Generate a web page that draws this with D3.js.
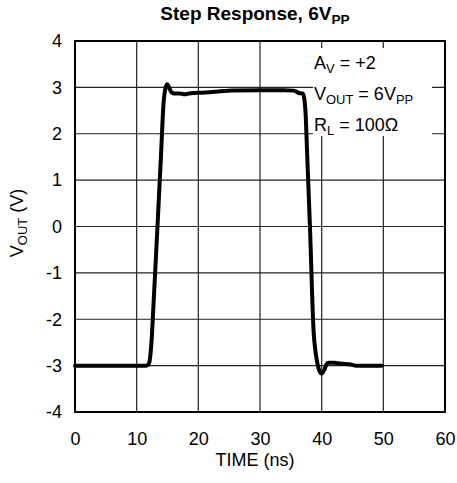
<!DOCTYPE html>
<html><head><meta charset="utf-8">
<script src="https://cdn.jsdelivr.net/npm/d3@7"></script>
<style>html,body{margin:0;padding:0;background:#fff;}svg{display:block;font-family:"Liberation Sans",Arial,sans-serif;}</style>
</head><body><svg id="c" width="457" height="483"></svg>
<script>
const timeNs = [0, 6, 11.5, 11.9, 12.1, 12.4, 12.8, 13.3, 13.95, 14.35, 14.7, 14.95, 15.25, 15.6, 16.05, 17.0, 17.8, 18.5, 21.1, 25.4, 30, 33.9, 35.5, 36.3, 36.9, 37.15, 37.4, 37.65, 38.1, 38.7, 39.0, 39.2, 39.6, 40.0, 40.4, 40.8, 41.1, 42, 43.5, 44.5, 45.5, 47, 49.7];
const voutV  = [-3.0, -3.0, -3.0, -2.98, -2.9, -2.5, -1.5, -0.2, 1.55, 2.64, 3.0, 3.07, 3.0, 2.9, 2.87, 2.87, 2.85, 2.87, 2.89, 2.93, 2.94, 2.94, 2.93, 2.88, 2.87, 2.78, 2.42, 1.55, 0, -2.28, -2.7, -2.87, -3.1, -3.17, -3.1, -2.97, -2.94, -2.94, -2.96, -2.97, -3.0, -3.0, -3.0];
const xTicks = [0, 10, 20, 30, 40, 50, 60];
const yTicks = [4, 3, 2, 1, 0, -1, -2, -3, -4];
const legendLines = [
  [["A",""],["V","sub"],[" = +2",""]],
  [["V",""],["OUT","sub"],[" = 6V",""],["PP","sub"]],
  [["R",""],["L","sub"],[" = 100Ω",""]]
];

const svg = d3.select("#c");
const L = 75, R = 445, T = 41, B = 412;
const x = d3.scaleLinear().domain([0, 60]).range([L, R]);
const y = d3.scaleLinear().domain([-4, 4]).range([B, T]);

// grid
const g = svg.append("g");
g.selectAll(".vg").data(xTicks.slice(1, -1)).join("line")
  .attr("x1", d => x(d)).attr("x2", d => x(d)).attr("y1", T).attr("y2", B)
  .attr("stroke", "#222").attr("stroke-width", 1.2);
g.selectAll(".hg").data(yTicks.slice(1, -1)).join("line")
  .attr("y1", d => y(d)).attr("y2", d => y(d)).attr("x1", L).attr("x2", R)
  .attr("stroke", "#222").attr("stroke-width", 1.2);

// legend background
svg.append("rect").attr("x", 313).attr("y", 48).attr("width", 119).attr("height", 88).attr("fill", "#fff");

// frame
svg.append("rect").attr("x", L).attr("y", T).attr("width", R - L).attr("height", B - T)
  .attr("fill", "none").attr("stroke", "#000").attr("stroke-width", 2);

// axes labels
const fs = 18;
const xa = svg.append("g").attr("transform", `translate(0,${B})`)
  .call(d3.axisBottom(x).tickValues(xTicks).tickSize(0).tickPadding(20).tickFormat(d3.format("d")));
xa.select(".domain").remove();
xa.selectAll("text").attr("font-size", fs).attr("font-family", "Liberation Sans, Arial, sans-serif").attr("fill", "#000");
const ya = svg.append("g").attr("transform", `translate(${L},0)`)
  .call(d3.axisLeft(y).tickValues(yTicks).tickSize(0).tickPadding(13).tickFormat(d => d < 0 ? "-" + Math.abs(d) : d));
ya.select(".domain").remove();
ya.selectAll("text").attr("font-size", fs).attr("font-family", "Liberation Sans, Arial, sans-serif").attr("fill", "#000");

// curve
const line = d3.line().x((d, i) => x(timeNs[i])).y(d => y(d)).curve(d3.curveMonotoneX);
svg.append("path").datum(voutV).attr("d", line).attr("fill", "none")
  .attr("stroke", "#000").attr("stroke-width", 4).attr("stroke-linejoin", "round").attr("stroke-linecap", "round");

function rich(sel, parts, size) {
  parts.forEach(([t, k], i) => {
    const prev = i > 0 ? parts[i - 1][1] : "";
    const ts = sel.append("tspan").text(t);
    if (k === "sub") ts.attr("font-size", size * 0.72).attr("dy", size * 0.22);
    else ts.attr("font-size", size);
    if (k !== "sub" && prev === "sub") ts.attr("dy", -size * 0.22);
  });
}

// title
const title = svg.append("text").attr("x", 255).attr("y", 20).attr("text-anchor", "middle")
  .attr("font-weight", "bold").attr("fill", "#000");
rich(title, [["Step Response, 6V",""],["PP","sub"]], 19);

// legend
const ly = [69, 100, 131];
legendLines.forEach((parts, i) => {
  const t = svg.append("text").attr("x", 314).attr("y", ly[i]).attr("fill", "#000");
  rich(t, parts, 18);
});

// axis titles
svg.append("text").attr("x", 255).attr("y", 466).attr("text-anchor", "middle")
  .attr("font-size", 18).attr("fill", "#000").text("TIME (ns)");
const yl = svg.append("text").attr("transform", "translate(23,223) rotate(-90)")
  .attr("text-anchor", "middle").attr("fill", "#000");
rich(yl, [["V",""],["OUT","sub"],[" (V)",""]], 18);
</script></body></html>
